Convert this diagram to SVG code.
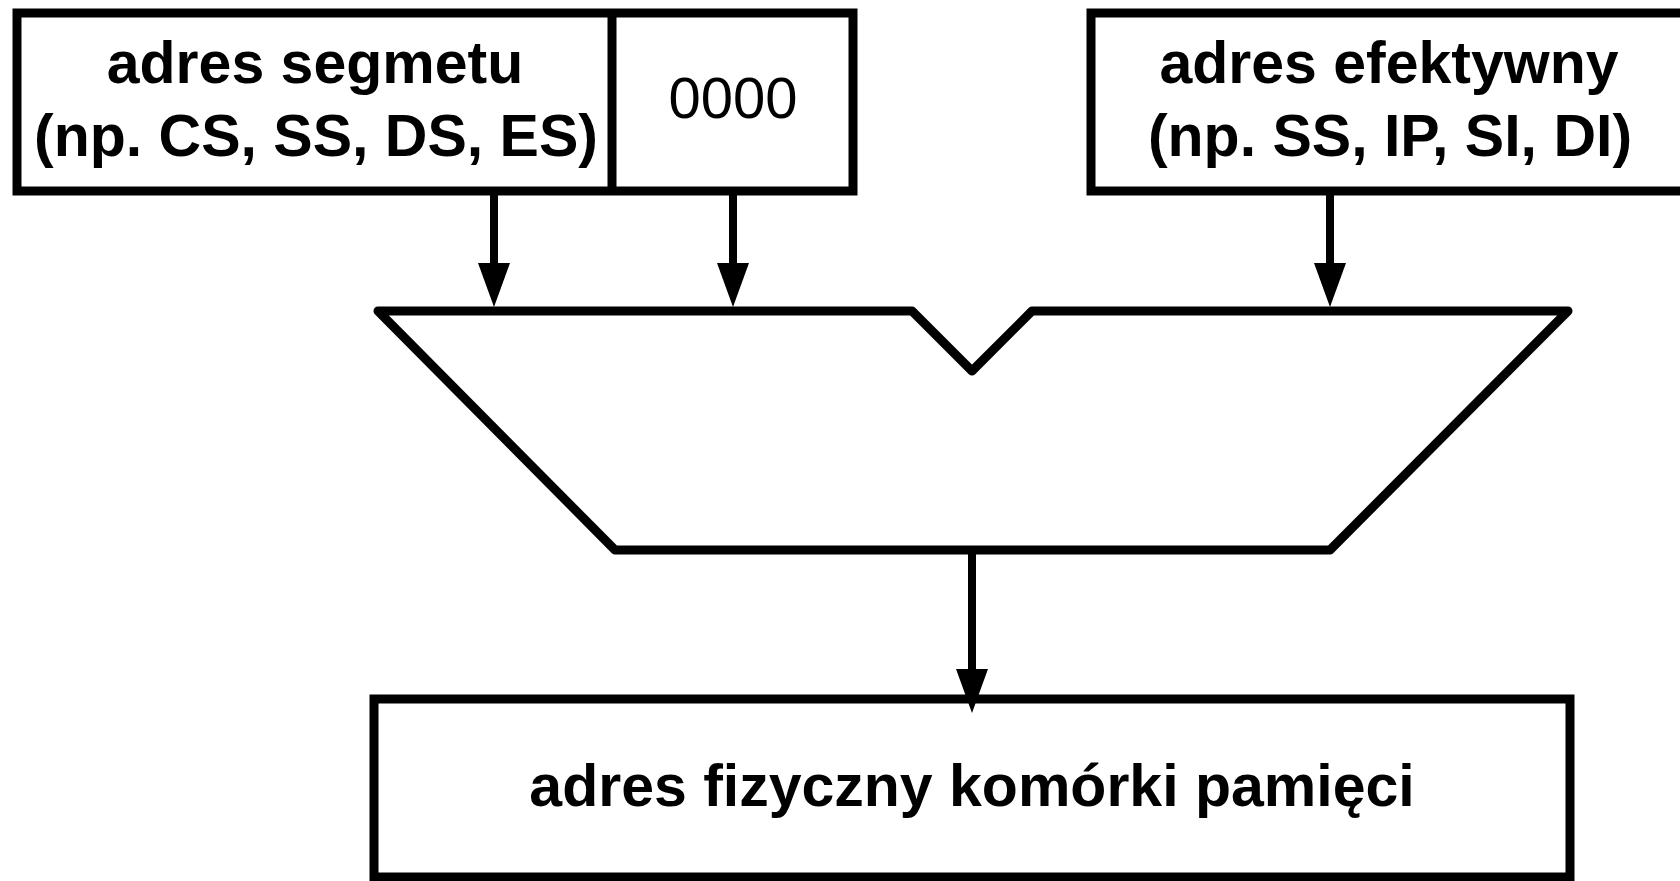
<svg xmlns="http://www.w3.org/2000/svg" width="1680" height="881" viewBox="0 0 1680 881">
  <defs>
    <style>
      .box { fill: #fff; stroke: #000; stroke-width: 9; stroke-linejoin: miter; }
      .adder { fill: #fff; stroke: #000; stroke-width: 9; stroke-linejoin: round; }
      .wire { fill: none; stroke: #000; stroke-width: 8; marker-end: url(#head); }
      .lbl { font-family: "Liberation Sans", Arial, Helvetica, sans-serif; font-size: 59px; font-weight: bold; text-anchor: middle; fill: #000; }
      .zeros { font-family: "Liberation Sans", Arial, Helvetica, sans-serif; font-size: 58px; font-weight: normal; text-anchor: middle; fill: #000; }
    </style>
    <!-- arrowhead starts where the wire ends and points along it -->
    <marker id="head" markerUnits="userSpaceOnUse" markerWidth="44" markerHeight="32" viewBox="0 0 44 32" refX="0" refY="16" orient="auto">
      <path d="M0,0 L44,16 L0,32 Z" fill="#000"/>
    </marker>
  </defs>

  <rect x="0" y="0" width="1680" height="881" fill="#fff"/>

  <!-- segment register shifted left by four hex digits -->
  <g id="segment">
    <rect class="box" x="17" y="13" width="836" height="178"/>
    <line x1="612" y1="13" x2="612" y2="191" stroke="#000" stroke-width="9"/>
    <text class="lbl" x="315" y="83">adres segmetu</text>
    <text class="lbl" x="316" y="156">(np. CS, SS, DS, ES)</text>
    <text class="zeros" x="733" y="118">0000</text>
  </g>

  <!-- offset register -->
  <g id="offset">
    <rect class="box" x="1091" y="13" width="596" height="178"/>
    <text class="lbl" x="1389" y="83">adres efektywny</text>
    <text class="lbl" x="1390" y="156">(np. SS, IP, SI, DI)</text>
  </g>

  <!-- adder -->
  <g id="adder">
    <polygon class="adder" points="378,311 912,311 972,371 1032,311 1568,311 1330,550 615,550"/>
  </g>

  <!-- resulting physical address -->
  <g id="physical">
    <rect class="box" x="374" y="699" width="1196" height="178"/>
    <text class="lbl" x="972" y="806">adres fizyczny komórki pamięci</text>
  </g>

  <g id="connectors">
    <line class="wire" x1="494" y1="195" x2="494" y2="263"/>
    <line class="wire" x1="733" y1="195" x2="733" y2="263"/>
    <line class="wire" x1="1330" y1="195" x2="1330" y2="263"/>
    <line class="wire" x1="972" y1="554" x2="972" y2="669"/>
  </g>
</svg>
